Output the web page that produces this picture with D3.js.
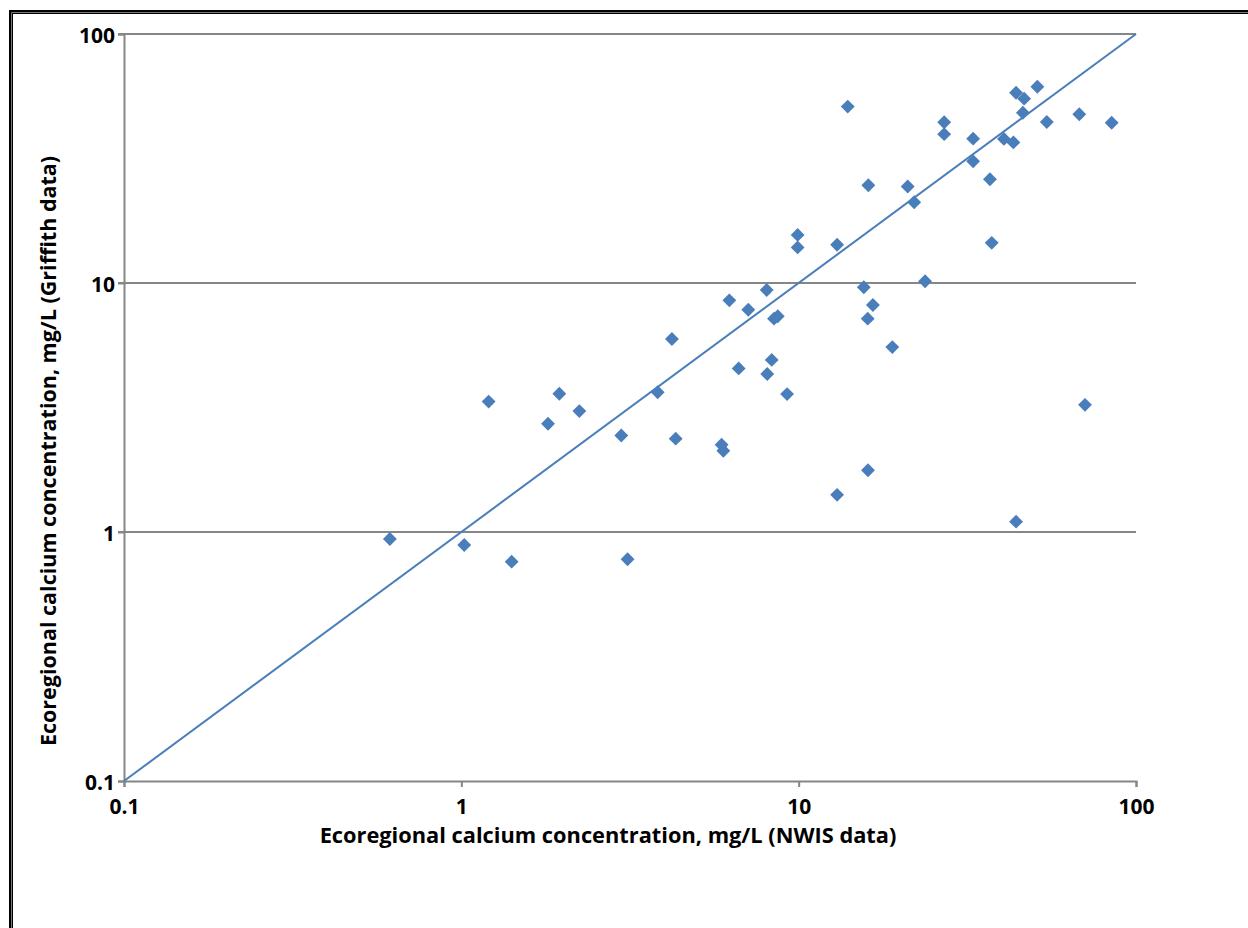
<!DOCTYPE html>
<html>
<head>
<meta charset="utf-8">
<script src="https://cdn.jsdelivr.net/npm/d3@7"></script>
<style>
  body { margin: 0; background: #fff; }
  svg { display: block; }
</style>
</head>
<body>
<div class="main"></div>
<script>
(function() {
  'use strict';

  // NWIS (x) vs Griffith (y) calcium, mg/L
  var nwis = [0.614, 1.02, 1.41, 3.11, 1.205, 1.807, 1.952, 2.238, 2.98, 3.82,
    4.21, 4.32, 5.91, 5.98, 6.23, 6.64, 7.09, 8.04, 8.07, 8.32,
    8.45, 8.67, 9.24, 9.93, 9.93, 13.0, 13.0, 13.98, 15.6, 16.09,
    16.05, 16.02, 16.6, 18.95, 21.05, 22.0, 23.7, 27.0, 27.0, 32.9,
    32.9, 36.9, 37.35, 40.6, 43.3, 44.1, 46.6, 46.2, 51.0, 54.4,
    67.9, 84.7, 70.6, 44.1];
  var griffith = [0.937, 0.887, 0.760, 0.777, 3.34, 2.72, 3.59, 3.06, 2.44, 3.64,
    5.96, 2.37, 2.24, 2.12, 8.52, 4.54, 7.81, 9.37, 4.31, 4.91,
    7.19, 7.35, 3.58, 15.6, 13.9, 14.25, 1.41, 51.1, 9.61, 24.7,
    1.77, 7.19, 8.16, 5.53, 24.4, 21.1, 10.16, 44.2, 39.6, 38.0,
    30.8, 26.1, 14.5, 37.9, 36.7, 58.1, 55.0, 48.3, 61.4, 44.3,
    47.6, 44.0, 3.24, 1.10];
  var oneToOne = [0.1, 100];
  var tickValues = [0.1, 1, 10, 100];
  var gridValues = [1, 10, 100];
  var xTitle = "Ecoregional calcium concentration, mg/L (NWIS data)";
  var yTitle = "Ecoregional calcium concentration, mg/L (Griffith data)";

  var width = 1248, height = 928;
  var blue = "#4a7ebb", grey = "#868686";

  var svg = d3.select(".main")
    .append("svg")
      .attr("width", width)
      .attr("height", height);

  // picture frame (cut off at right and bottom)
  svg.append("path")
    .attr("d", "M11," + (height + 5) + "V12H" + (width + 5))
    .style("fill", "none")
    .style("stroke", "black")
    .style("stroke-width", 4);
  svg.append("path")
    .attr("d", "M11.5," + (height + 5) + "V12.5H" + (width + 5))
    .style("fill", "none")
    .style("stroke", "#777")
    .style("stroke-width", 1);

  var x = d3.scaleLog().domain([0.1, 100]).range([124, 1136]);
  var y = d3.scaleLog().domain([0.1, 100]).range([781, 34]);

  // horizontal gridlines
  svg.append("g")
    .selectAll("line")
    .data(gridValues)
    .enter().append("line")
      .attr("x1", x(0.1) - 6)
      .attr("x2", x(100))
      .attr("y1", function(d) { return y(d); })
      .attr("y2", function(d) { return y(d); })
      .style("stroke", grey)
      .style("stroke-width", 2);

  // axes
  var font = "'Open Sans', Lato, sans-serif";

  var xAxis = svg.append("g")
    .attr("transform", "translate(0," + y(0.1) + ")")
    .call(d3.axisBottom(x).tickValues(tickValues).tickFormat(d3.format("~g")).tickSize(6).tickPadding(12));
  var yAxis = svg.append("g")
    .attr("transform", "translate(" + x(0.1) + ",0)")
    .call(d3.axisLeft(y).tickValues(tickValues).tickFormat(d3.format("~g")).tickSize(6).tickPadding(3));

  [xAxis, yAxis].forEach(function(a) {
    a.select(".domain").style("stroke", grey).style("stroke-width", 2);
    a.selectAll(".tick line").style("stroke", grey).style("stroke-width", 2);
    a.selectAll(".tick text")
      .style("font-family", font)
      .style("font-weight", "bold")
      .style("font-size", "21px")
      .style("fill", "black");
  });
  yAxis.selectAll(".tick text").attr("dy", "0.4em");

  // 1:1 line
  var line = d3.line()
    .x(function(d) { return x(d); })
    .y(function(d) { return y(d); });

  svg.append("path")
    .datum(oneToOne)
    .attr("d", line)
    .style("fill", "none")
    .style("stroke", blue)
    .style("stroke-width", 2);

  // points
  var diamond = d3.symbol().type(d3.symbolSquare).size(96);
  svg.append("g")
    .selectAll("path")
    .data(nwis)
    .enter().append("path")
      .attr("d", diamond)
      .attr("transform", function(d, i) {
        return "translate(" + x(d) + "," + y(griffith[i]) + ") rotate(45)";
      })
      .style("fill", blue);

  // titles
  svg.append("text")
    .attr("x", 608)
    .attr("y", 843)
    .text(xTitle)
    .style("text-anchor", "middle")
    .style("font-family", font)
    .style("font-weight", "bold")
    .style("font-size", "21.8px");

  svg.append("text")
    .attr("transform", "translate(56,451) rotate(-90)")
    .text(yTitle)
    .style("text-anchor", "middle")
    .style("font-family", font)
    .style("font-weight", "bold")
    .style("font-size", "21.5px");

}) ();
</script>
</body>
</html>
